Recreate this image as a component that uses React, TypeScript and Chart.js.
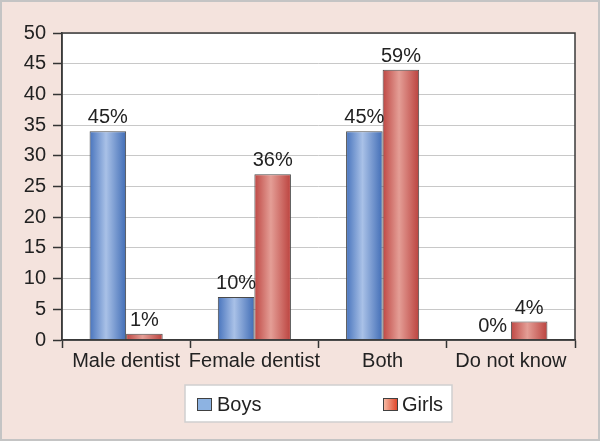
import React, { useEffect, useRef } from "react";
import { Chart, registerables } from "chart.js";

Chart.register(...registerables);

const categories = ["Male dentist", "Female dentist", "Both", "Do not know"];
const boysValues = [34, 7, 34, 0];
const girlsValues = [1, 27, 44, 3];
const boysLabels = ["45%", "10%", "45%", "0%"];
const girlsLabels = ["1%", "36%", "59%", "4%"];
const yTicks = [0, 5, 10, 15, 20, 25, 30, 35, 40, 45, 50];
const seriesNames = ["Boys", "Girls"];

const FONT = "'Liberation Sans', Arial, sans-serif";
const FS = 20;

export default function App() {
  const ref = useRef<HTMLCanvasElement | null>(null);

  useEffect(() => {
    const canvas = ref.current;
    if (!canvas) return;

    const bgPlugin = {
      id: "bgPlugin",
      beforeDraw(chart: any) {
        const { ctx, chartArea: a, width, height } = chart;
        ctx.save();
        ctx.fillStyle = "#f4e3dd";
        ctx.fillRect(0, 0, width, height);
        ctx.strokeStyle = "#c4c4c4";
        ctx.lineWidth = 2;
        ctx.strokeRect(1, 1, width - 2, height - 2);
        ctx.fillStyle = "#ffffff";
        ctx.fillRect(a.left, a.top, a.right - a.left, a.bottom - a.top);
        ctx.restore();
      },
      beforeDatasetsDraw(chart: any) {
        const { ctx } = chart;
        chart.data.datasets.forEach((ds: any, di: number) => {
          const meta = chart.getDatasetMeta(di);
          meta.data.forEach((bar: any) => {
            const half = bar.width / 2;
            const g = ctx.createLinearGradient(bar.x - half, 0, bar.x + half, 0);
            if (di === 0) {
              g.addColorStop(0, "#4874bd");
              g.addColorStop(0.45, "#a9c1e7");
              g.addColorStop(1, "#416db6");
            } else {
              g.addColorStop(0, "#be4743");
              g.addColorStop(0.45, "#e49e96");
              g.addColorStop(1, "#bb423e");
            }
            if (bar.options && !Object.isFrozen(bar.options)) {
              bar.options.backgroundColor = g;
            }
          });
        });
      },
      afterDatasetsDraw(chart: any) {
        const { ctx, chartArea: a } = chart;
        ctx.save();
        ctx.font = `${FS}px ${FONT}`;
        ctx.fillStyle = "#222222";
        ctx.textAlign = "center";
        ctx.textBaseline = "alphabetic";
        const labelSets = [boysLabels, girlsLabels];
        chart.data.datasets.forEach((ds: any, di: number) => {
          const meta = chart.getDatasetMeta(di);
          meta.data.forEach((bar: any, i: number) => {
            ctx.fillText(labelSets[di][i], bar.x, bar.y - 8);
          });
        });
        ctx.strokeStyle = "#3a3a3a";
        ctx.lineWidth = 1.5;
        ctx.strokeRect(a.left, a.top, a.right - a.left, a.bottom - a.top);
        ctx.restore();
      },
      afterDraw(chart: any) {
        const { ctx } = chart;
        ctx.save();
        const bx = 185, by = 385, bw = 267, bh = 37;
        ctx.fillStyle = "#ffffff";
        ctx.fillRect(bx, by, bw, bh);
        ctx.strokeStyle = "#cfcfcf";
        ctx.lineWidth = 1.5;
        ctx.strokeRect(bx, by, bw, bh);
        ctx.fillStyle = "#8db3e2";
        ctx.fillRect(197, 398, 15, 13);
        ctx.strokeStyle = "#404040";
        ctx.lineWidth = 1;
        ctx.strokeRect(197.5, 398.5, 14, 12);
        const g = ctx.createLinearGradient(383, 0, 398, 0);
        g.addColorStop(0, "#f7c2ad");
        g.addColorStop(1, "#df3f22");
        ctx.fillStyle = g;
        ctx.fillRect(383, 398, 15, 13);
        ctx.strokeRect(383.5, 398.5, 14, 12);
        ctx.font = `${FS}px ${FONT}`;
        ctx.fillStyle = "#222222";
        ctx.textAlign = "left";
        ctx.textBaseline = "alphabetic";
        ctx.fillText(seriesNames[0], 217, 411);
        ctx.fillText(seriesNames[1], 402, 411);
        ctx.restore();
      },
    };

    const chart = new Chart(canvas, {
      type: "bar",
      data: {
        labels: categories,
        datasets: [
          {
            label: seriesNames[0],
            data: boysValues,
            backgroundColor: () => "#6a90d0",
            borderColor: "#4a4a4a",
            borderWidth: 1,
            categoryPercentage: 0.57,
            barPercentage: 1,
          },
          {
            label: seriesNames[1],
            data: girlsValues,
            backgroundColor: () => "#d06a66",
            borderColor: "#4a4a4a",
            borderWidth: 1,
            categoryPercentage: 0.57,
            barPercentage: 1,
          },
        ],
      },
      options: {
        responsive: false,
        animation: false,
        layout: { padding: { left: 0, right: 25, top: 33, bottom: 0 } },
        plugins: {
          legend: { display: false },
          tooltip: { enabled: false },
        },
        scales: {
          x: {
            afterFit: (s: any) => {
              s.height = 101;
            },
            grid: {
              display: true,
              offset: true,
              drawOnChartArea: false,
              drawTicks: true,
              tickLength: 8,
              tickColor: "#333333",
              tickWidth: 1.5,
            },
            border: { color: "#3a3a3a", width: 1.5 },
            ticks: {
              color: "#222222",
              font: { family: FONT, size: FS },
              padding: 1,
              maxRotation: 0,
              minRotation: 0,
              autoSkip: false,
            },
          },
          y: {
            min: 0,
            max: 50,
            afterFit: (s: any) => {
              s.width = 62;
            },
            afterBuildTicks: (s: any) => {
              s.ticks = yTicks.map((v) => ({ value: v }));
            },
            grid: {
              color: "#c8c8c8",
              lineWidth: 1,
              drawTicks: true,
              tickLength: 9,
              tickColor: "#333333",
              tickWidth: 1.5,
            },
            border: { color: "#3a3a3a", width: 1.5 },
            ticks: {
              color: "#222222",
              font: { family: FONT, size: FS },
              padding: 7,
            },
          },
        },
      },
      plugins: [bgPlugin],
    });

    return () => chart.destroy();
  }, []);

  return (
    <div style={{ position: "absolute", left: 0, top: 0, width: 600, height: 441 }}>
      <canvas ref={ref} width={600} height={441} style={{ width: 600, height: 441 }} />
    </div>
  );
}
